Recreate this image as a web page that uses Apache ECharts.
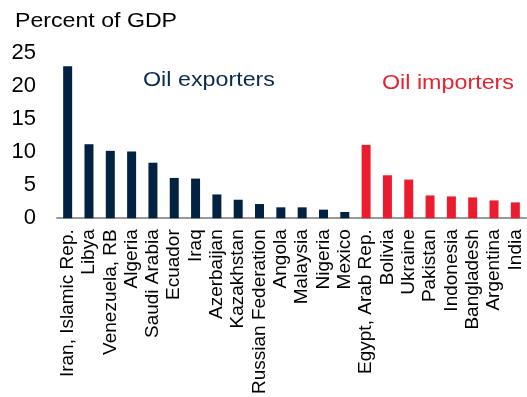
<!DOCTYPE html>
<html>
<head>
<meta charset="utf-8">
<script src="https://cdn.jsdelivr.net/npm/echarts@6/dist/echarts.min.js"></script>
<style>
html,body{margin:0;padding:0;background:#fff;}
#c{width:527px;height:397px;}
</style>
</head>
<body>
<div id="c"></div>
<script>
var exporterNames = ["Iran, Islamic Rep.", "Libya", "Venezuela, RB", "Algeria", "Saudi Arabia", "Ecuador", "Iraq", "Azerbaijan", "Kazakhstan", "Russian Federation", "Angola", "Malaysia", "Nigeria", "Mexico"];
var exporterValues = [23.0, 11.2, 10.2, 10.1, 8.4, 6.1, 6.0, 3.6, 2.8, 2.15, 1.65, 1.65, 1.3, 0.95];
var importerNames = ["Egypt, Arab Rep.", "Bolivia", "Ukraine", "Pakistan", "Indonesia", "Bangladesh", "Argentina", "India"];
var importerValues = [11.1, 6.5, 5.85, 3.45, 3.3, 3.15, 2.7, 2.4];
var yTicks = [0, 5, 10, 15, 20, 25];

var categories = exporterNames.concat(importerNames);
var expData = exporterValues.concat(importerNames.map(function(){return null;}));
var impData = exporterNames.map(function(){return null;}).concat(importerValues);

var FONT = "'Liberation Sans', Arial, sans-serif";
var chart = echarts.init(document.getElementById('c'), null, {renderer: 'canvas'});
chart.setOption({
  animation: false,
  backgroundColor: '#ffffff',
  grid: {left: 57, right: 1, top: 53, bottom: 177, containLabel: false},
  xAxis: {
    type: 'category',
    data: categories,
    axisLine: {show: true, lineStyle: {color: '#999999', width: 2}},
    axisTick: {show: false},
    axisLabel: {rotate: 90, interval: 0, margin: 11, color: '#000', fontFamily: FONT, fontSize: 19}
  },
  yAxis: {
    type: 'value',
    min: yTicks[0], max: yTicks[yTicks.length - 1], interval: 5,
    axisLine: {show: false},
    axisTick: {show: false},
    splitLine: {show: false},
    axisLabel: {margin: 21, color: '#000', fontFamily: FONT, fontSize: 22}
  },
  graphic: [
    {type: 'text', x: 15, y: 11, scaleX: 1.157, style: {text: 'Percent of GDP', fill: '#000', font: '20px ' + FONT, verticalAlign: 'top'}},
    {type: 'text', x: 143, y: 69.6, scaleX: 1.136, style: {text: 'Oil exporters', fill: '#0b2a4f', font: '20.5px ' + FONT, verticalAlign: 'top'}},
    {type: 'text', x: 382, y: 73.3, scaleX: 1.136, style: {text: 'Oil importers', fill: '#e8202f', font: '20.5px ' + FONT, verticalAlign: 'top'}}
  ],
  series: [
    {type: 'bar', stack: 'g', data: expData, barWidth: 9, itemStyle: {color: '#022244'}},
    {type: 'bar', stack: 'g', data: impData, barWidth: 9, itemStyle: {color: '#eb1c2d'}}
  ]
});
</script>
</body>
</html>
